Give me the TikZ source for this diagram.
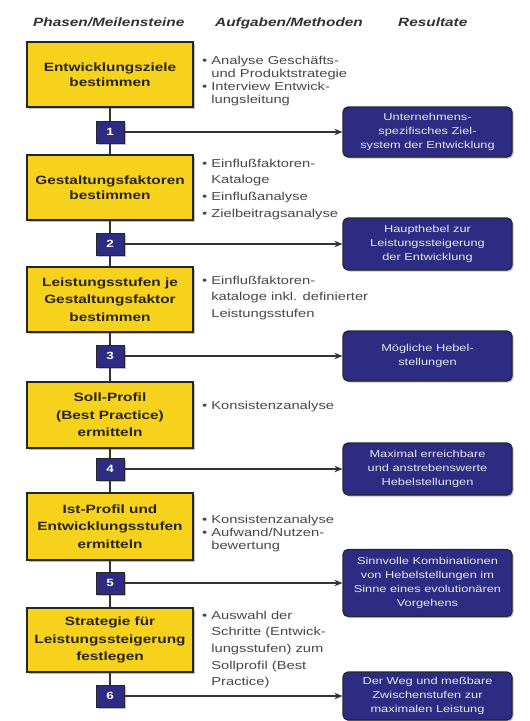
\documentclass[tikz,border=0pt]{standalone}
\usepackage{fontspec}
\setmainfont{Liberation Sans}
\newfontfamily\wf[FakeStretch=1.28]{Liberation Sans}
\usetikzlibrary{arrows.meta,shadows}
\definecolor{ybox}{RGB}{246,210,28}
\definecolor{navy}{RGB}{46,44,130}
\definecolor{ytext}{RGB}{40,36,20}
\definecolor{btext}{RGB}{72,72,72}
\definecolor{htext}{RGB}{50,50,50}
\tikzset{
  phase/.style={draw=black!85, line width=1.6pt, fill=ybox, minimum width=166pt,
    minimum height=65pt, align=center, text=ytext, inner sep=2pt,
    font=\wf\bfseries\fontsize{12}{15}\selectfont,
    drop shadow={shadow xshift=1.5pt, shadow yshift=-1.5pt, fill=black!50}},
  phasethree/.style={phase, font=\wf\bfseries\fontsize{12}{17.5}\selectfont},
  ms/.style={draw=black!85, line width=1pt, fill=navy, minimum width=28pt,
    minimum height=22pt, inner sep=0pt, text=white,
    font=\wf\bfseries\fontsize{10.5}{12}\selectfont,
    drop shadow={shadow xshift=1.5pt, shadow yshift=-1.5pt, fill=black!50}},
  result/.style={draw=black!85, line width=1.2pt, fill=navy, rounded corners=5pt,
    minimum width=169pt, align=center, text=white!88!navy, inner sep=2pt,
    font=\wf\fontsize{10}{14}\selectfont,
    drop shadow={shadow xshift=1.5pt, shadow yshift=-1.5pt, fill=black!50}},
  task/.style={anchor=base west, inner sep=0pt, text=btext,
    font=\wf\fontsize{11.5}{13}\selectfont},
  tasklong/.style={task, font=\wf\fontsize{11.5}{16.7}\selectfont},
  head/.style={anchor=base west, inner sep=0pt, text=htext,
    font=\wf\bfseries\itshape\fontsize{12}{14}\selectfont},
  conn/.style={draw=black!80, line width=1.6pt},
  arr/.style={conn, -{Stealth[length=8pt,width=6.5pt]}}
}
\newcommand{\bl}{\textbullet}
\begin{document}
\begin{tikzpicture}[x=1pt,y=-1pt]
\fill[white] (0,0) rectangle (530,721);
\useasboundingbox (0,0) rectangle (530,721);

% headers
\node[head] (h1) at (33,26) {Phasen/Meilensteine};
\node[head] (h2) at (215,26) {Aufgaben/Methoden};
\node[head] (h3) at (398,26) {Resultate};

% phases
\node[phase] (p1) at (110,74.5) {Entwicklungsziele\\bestimmen};
\node[phase] (p2) at (110,187.5) {Gestaltungsfaktoren\\bestimmen};
\node[phasethree] (p3) at (110,299.5) {Leistungsstufen je\\Gestaltungsfaktor\\bestimmen};
\node[phasethree, minimum height=66pt] (p4) at (110,415) {Soll-Profil\\(Best Practice)\\ermitteln};
\node[phasethree, minimum height=67pt] (p5) at (110,526.5) {Ist-Profil und\\Entwicklungsstufen\\ermitteln};
\node[phasethree, minimum height=64pt] (p6) at (110,640) {Strategie für\\Leistungssteigerung\\festlegen};

% milestones
\node[ms] (m1) at (110,132) {1};
\node[ms] (m2) at (110,244) {2};
\node[ms] (m3) at (110,356) {3};
\node[ms] (m4) at (110,469) {4};
\node[ms] (m5) at (110,583) {5};
\node[ms] (m6) at (110,696) {6};

% vertical connectors
\draw[conn] (p1) -- (m1);
\draw[conn] (m1) -- (p2);
\draw[conn] (p2) -- (m2);
\draw[conn] (m2) -- (p3);
\draw[conn] (p3) -- (m3);
\draw[conn] (m3) -- (p4);
\draw[conn] (p4) -- (m4);
\draw[conn] (m4) -- (p5);
\draw[conn] (p5) -- (m5);
\draw[conn] (m5) -- (p6);
\draw[conn] (p6) -- (m6);

% results
\node[result, minimum height=50pt] (r1) at (427.5,132) {Unternehmens-\\spezifisches Ziel-\\system der Entwicklung};
\node[result, minimum height=52pt] (r2) at (427.5,244) {Haupthebel zur\\Leistungssteigerung\\der Entwicklung};
\node[result, minimum height=50pt] (r3) at (427.5,356) {Mögliche Hebel-\\stellungen};
\node[result, minimum height=52pt] (r4) at (427.5,469) {Maximal erreichbare\\und anstrebenswerte\\Hebelstellungen};
\node[result, minimum height=67pt] (r5) at (427.5,583) {Sinnvolle Kombinationen\\von Hebelstellungen im\\Sinne eines evolutionären\\Vorgehens};
\node[result, minimum height=48pt] (r6) at (427.5,696) {Der Weg und meßbare\\Zwischenstufen zur\\maximalen Leistung};

% arrows
\draw[arr] (m1) -- (r1);
\draw[arr] (m2) -- (r2);
\draw[arr] (m3) -- (r3);
\draw[arr] (m4) -- (r4);
\draw[arr] (m5) -- (r5);
\draw[arr] (m6) -- (r6);

% tasks
\node[task] (t1) at (202,64) {\begin{tabular}[t]{@{}l@{\hspace{4pt}}l@{}}\bl&Analyse Geschäfts-\\&und Produktstrategie\\\bl&Interview Entwick-\\&lungsleitung\end{tabular}};
\node[tasklong] (t2) at (202,167) {\begin{tabular}[t]{@{}l@{\hspace{4pt}}l@{}}\bl&Einflußfaktoren-\\&Kataloge\\\bl&Einflußanalyse\\\bl&Zielbeitragsanalyse\end{tabular}};
\node[tasklong] (t3) at (202,284) {\begin{tabular}[t]{@{}l@{\hspace{4pt}}l@{}}\bl&Einflußfaktoren-\\&kataloge inkl. definierter\\&Leistungsstufen\end{tabular}};
\node[task] (t4) at (202,409) {\begin{tabular}[t]{@{}l@{\hspace{4pt}}l@{}}\bl&Konsistenzanalyse\end{tabular}};
\node[task] (t5) at (202,523) {\begin{tabular}[t]{@{}l@{\hspace{4pt}}l@{}}\bl&Konsistenzanalyse\\\bl&Aufwand/Nutzen-\\&bewertung\end{tabular}};
\node[tasklong] (t6) at (202,619) {\begin{tabular}[t]{@{}l@{\hspace{4pt}}l@{}}\bl&Auswahl der\\&Schritte (Entwick-\\&lungsstufen) zum\\&Sollprofil (Best\\&Practice)\end{tabular}};
\end{tikzpicture}
\end{document}
